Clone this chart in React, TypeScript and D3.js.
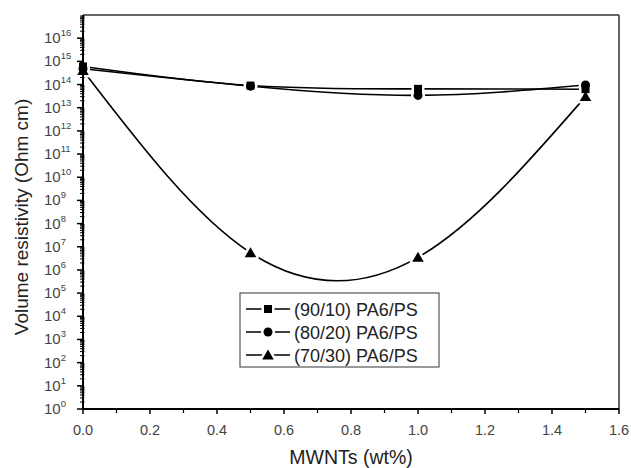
import React from "react";
import * as d3 from "d3";

const xValues = [0, 0.5, 1.0, 1.5];
const series9010 = [6.0e14, 9.0e13, 6.5e13, 6.3e13];
const series8020 = [4.8e14, 8.5e13, 3.4e13, 9.5e13];
const series7030 = [4.0e14, 5.5e6, 3.5e6, 3.0e13];
const seriesNames = ["(90/10) PA6/PS", "(80/20) PA6/PS", "(70/30) PA6/PS"];
const seriesMarkers = ["square", "circle", "triangle"];
const xTicks = [0, 0.2, 0.4, 0.6, 0.8, 1.0, 1.2, 1.4, 1.6];
const xMinorTicks = [0.1, 0.3, 0.5, 0.7, 0.9, 1.1, 1.3, 1.5];
const yExponents = [0, 1, 2, 3, 4, 5, 6, 7, 8, 9, 10, 11, 12, 13, 14, 15, 16];

const W = 631;
const H = 468;
const M = { left: 83, right: 619, top: 15, bottom: 409 };

function Marker({ type, x, y, halo }: { type: string; x: number; y: number; halo?: boolean }) {
  const fill = halo ? "#fff" : "#000";
  const stroke = halo ? "#fff" : "none";
  const sw = halo ? 5 : 0;
  if (type === "square") {
    const s = 8;
    return <rect x={x - s / 2} y={y - s / 2} width={s} height={s} fill={fill} stroke={stroke} strokeWidth={sw} />;
  }
  if (type === "circle") {
    return <circle cx={x} cy={y} r={4.5} fill={fill} stroke={stroke} strokeWidth={sw} />;
  }
  const r = 5.5;
  const pts = `${x},${y - r} ${x + r * 1.05},${y + r * 0.8} ${x - r * 1.05},${y + r * 0.8}`;
  return <polygon points={pts} fill={fill} stroke={stroke} strokeWidth={sw} strokeLinejoin="round" />;
}

export default function App() {
  const x = d3.scaleLinear().domain([0, 1.6]).range([M.left, M.right]);
  const y = d3.scaleLog().domain([1, 1e17]).range([M.bottom, M.top]);
  const allSeries = [series9010, series8020, series7030];

  const line = d3
    .line<[number, number]>()
    .x((d) => x(d[0]))
    .y((d) => y(d[1]))
    .curve(d3.curveNatural);

  const minorY: number[] = [];
  for (let e = 0; e < 17; e++) {
    for (let k = 2; k <= 9; k++) minorY.push(k * Math.pow(10, e));
  }

  const font = "Arial, 'Liberation Sans', Helvetica, sans-serif";
  const legendX = 240;
  const legendY = 293;
  const rowYs = [309, 332, 355];

  return (
    <svg width={W} height={H} style={{ position: "absolute", left: 0, top: 0, background: "#fff" }} fontFamily={font}>
      <rect x={0} y={0} width={W} height={H} fill="#fff" />
      {/* frame */}
      <line x1={M.left} y1={M.top} x2={M.right} y2={M.top} stroke="#333" strokeWidth={1.5} />
      <line x1={M.right} y1={M.top} x2={M.right} y2={M.bottom} stroke="#333" strokeWidth={1.5} />

      {/* curves */}
      {allSeries.map((s, i) => (
        <path
          key={"l" + i}
          d={line(xValues.map((xv, j) => [xv, s[j]] as [number, number])) || ""}
          fill="none"
          stroke="#000"
          strokeWidth={1.6}
        />
      ))}
      {/* halos */}
      {allSeries.map((s, i) =>
        s.map((v, j) => <Marker key={`h${i}-${j}`} type={seriesMarkers[i]} x={x(xValues[j])} y={y(v)} halo />)
      )}
      {allSeries.map((s, i) =>
        s.map((v, j) => <Marker key={`m${i}-${j}`} type={seriesMarkers[i]} x={x(xValues[j])} y={y(v)} />)
      )}

      {/* axes */}
      <line x1={M.left} y1={M.top} x2={M.left} y2={M.bottom} stroke="#000" strokeWidth={2} />
      <line x1={M.left} y1={M.bottom} x2={M.right} y2={M.bottom} stroke="#000" strokeWidth={2} />

      {minorY.map((v, i) => (
        <line key={"my" + i} x1={M.left - 3} x2={M.left + 1.5} y1={y(v)} y2={y(v)} stroke="#000" strokeWidth={1} />
      ))}
      {yExponents.map((e) => (
        <g key={"y" + e}>
          <line x1={M.left - 6} x2={M.left} y1={y(Math.pow(10, e))} y2={y(Math.pow(10, e))} stroke="#000" strokeWidth={1.5} />
          <text x={44} y={y(Math.pow(10, e)) + 5} fontSize={15} fill="#444">
            10
            <tspan dy={-7} fontSize={9.5}>
              {e}
            </tspan>
          </text>
        </g>
      ))}

      {xTicks.map((t) => (
        <g key={"x" + t}>
          <line x1={x(t)} x2={x(t)} y1={M.bottom} y2={M.bottom + 5} stroke="#000" strokeWidth={1.5} />
          <text x={x(t)} y={435} fontSize={14.5} fill="#444" textAnchor="middle">
            {d3.format(".1f")(t)}
          </text>
        </g>
      ))}
      {xMinorTicks.map((t) => (
        <line key={"mx" + t} x1={x(t)} x2={x(t)} y1={M.bottom} y2={M.bottom + 4} stroke="#000" strokeWidth={1.2} />
      ))}

      {/* titles */}
      <text x={(M.left + M.right) / 2} y={464} fontSize={19.5} fill="#222" textAnchor="middle">
        MWNTs (wt%)
      </text>
      <text transform={`translate(28, ${(M.top + M.bottom) / 2 + 5}) rotate(-90)`} fontSize={19} fill="#222" textAnchor="middle">
        Volume resistivity (Ohm cm)
      </text>

      {/* legend */}
      <rect x={legendX} y={legendY} width={199} height={74} fill="#fff" stroke="#555" strokeWidth={1.2} />
      {seriesNames.map((name, i) => (
        <g key={"lg" + i}>
          <line x1={246} x2={290} y1={rowYs[i]} y2={rowYs[i]} stroke="#000" strokeWidth={1.6} />
          <Marker type={seriesMarkers[i]} x={268} y={rowYs[i]} halo />
          <Marker type={seriesMarkers[i]} x={268} y={rowYs[i]} />
          <text x={294} y={rowYs[i] + 6.5} fontSize={18} fill="#222">
            {name}
          </text>
        </g>
      ))}
    </svg>
  );
}
